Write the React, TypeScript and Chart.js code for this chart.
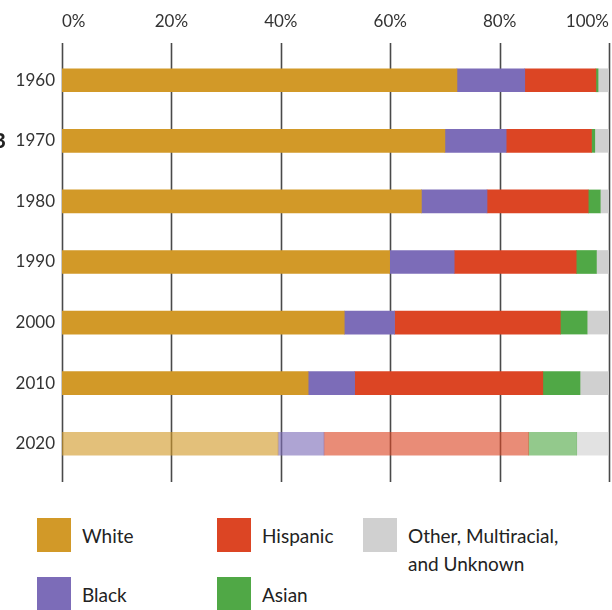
import React, { useEffect, useRef } from "react";
import { Chart, registerables } from "chart.js";

Chart.register(...registerables);

// Share of population by group, percent of total
const years = ["1960", "1970", "1980", "1990", "2000", "2010", "2020"];
const white = [72.2, 70.0, 65.7, 59.9, 51.6, 45.0, 39.5];
const black = [12.4, 11.2, 12.0, 11.8, 9.2, 8.5, 8.4];
const hispanic = [13.0, 15.6, 18.5, 22.3, 30.3, 34.4, 37.4];
const asian = [0.4, 0.6, 2.2, 3.7, 4.9, 6.8, 8.8];
const other = [2.0, 2.6, 1.6, 2.3, 4.0, 5.3, 5.9];
const xTicks = [0, 20, 40, 60, 80, 100];

const FONT = "Lato, 'Open Sans', sans-serif";

const series = [
  { label: "White", data: white, rgb: [210, 153, 40] },
  { label: "Black", data: black, rgb: [124, 108, 184] },
  { label: "Hispanic", data: hispanic, rgb: [220, 69, 36] },
  { label: "Asian", data: asian, rgb: [80, 168, 70] },
  { label: "Other, Multiracial, and Unknown", data: other, rgb: [208, 208, 208] },
];

// the latest year is shown lighter
const colorsFor = (rgb: number[]) =>
  years.map((_, i) =>
    i === years.length - 1
      ? `rgba(${rgb[0]},${rgb[1]},${rgb[2]},0.62)`
      : `rgb(${rgb[0]},${rgb[1]},${rgb[2]})`
  );

const gridPlugin = {
  id: "longGrid",
  beforeDatasetsDraw(chart: any) {
    const { ctx, chartArea, scales } = chart;
    ctx.save();
    ctx.strokeStyle = "#4a4a4a";
    ctx.lineWidth = 1.6;
    xTicks.forEach((v) => {
      const x = Math.round(scales.x.getPixelForValue(v)) + 0.5;
      ctx.beginPath();
      ctx.moveTo(x, chartArea.top - 7);
      ctx.lineTo(x, chartArea.bottom + 8);
      ctx.stroke();
    });
    ctx.restore();
  },
};

function ChartCanvas() {
  const ref = useRef<HTMLCanvasElement | null>(null);
  useEffect(() => {
    if (!ref.current) return;
    const chart = new Chart(ref.current, {
      type: "bar",
      data: {
        labels: years,
        datasets: series.map((s) => ({
          label: s.label,
          data: s.data,
          backgroundColor: colorsFor(s.rgb),
          borderWidth: 0,
          barThickness: 23,
        })),
      },
      options: {
        indexAxis: "y",
        animation: false,
        responsive: false,
        maintainAspectRatio: false,
        layout: { padding: { left: 0, right: 3, top: 0, bottom: 26 } },
        plugins: {
          legend: { display: false },
          tooltip: { enabled: false },
        },
        scales: {
          x: {
            position: "top",
            stacked: true,
            min: 0,
            max: 100,
            afterFit: (scale: any) => {
              scale.height = 50;
              scale.paddingLeft = 0;
              scale.paddingRight = 0;
            },
            afterBuildTicks: (scale: any) => {
              scale.ticks = xTicks.map((v) => ({ value: v }));
            },
            grid: { display: false, drawTicks: false },
            border: { display: false },
            ticks: {
              align: "inner",
              padding: 18,
              color: "#333",
              font: { family: FONT, size: 17 },
              callback: (v: any) => `${v}%`,
            },
          },
          y: {
            stacked: true,
            afterFit: (scale: any) => {
              scale.width = 62;
            },
            grid: { display: false, drawTicks: false },
            border: { display: false },
            ticks: {
              padding: 7,
              color: "#333",
              font: { family: FONT, size: 17 },
            },
          },
        },
      },
      plugins: [gridPlugin],
    });
    return () => chart.destroy();
  }, []);
  return <canvas ref={ref} width={612} height={500} style={{ display: "block" }} />;
}

const legendItems = [
  { label: ["White"], rgb: series[0].rgb, left: 37, top: 518 },
  { label: ["Hispanic"], rgb: series[2].rgb, left: 217, top: 518 },
  { label: ["Other, Multiracial,", "and Unknown"], rgb: series[4].rgb, left: 363, top: 518 },
  { label: ["Black"], rgb: series[1].rgb, left: 37, top: 577 },
  { label: ["Asian"], rgb: series[3].rgb, left: 217, top: 577 },
];

export default function App() {
  return (
    <div
      style={{
        position: "absolute",
        left: 0,
        top: 0,
        width: 612,
        height: 610,
        overflow: "hidden",
        background: "#fff",
        fontFamily: FONT,
      }}
    >
      <ChartCanvas />
      <span
        style={{
          position: "absolute",
          left: -8,
          top: 127,
          fontSize: 21,
          fontWeight: 700,
          color: "#222",
        }}
      >
        B
      </span>
      {legendItems.map((it) => (
        <div key={it.label[0]} style={{ position: "absolute", left: it.left, top: it.top }}>
          <div
            style={{
              position: "absolute",
              left: 0,
              top: 0,
              width: 34,
              height: 34,
              background: `rgb(${it.rgb.join(",")})`,
            }}
          />
          <div
            style={{
              position: "absolute",
              left: 45,
              top: 4,
              fontSize: 19,
              lineHeight: "28px",
              color: "#222",
              whiteSpace: "nowrap",
            }}
          >
            {it.label.map((l) => (
              <div key={l}>{l}</div>
            ))}
          </div>
        </div>
      ))}
    </div>
  );
}
